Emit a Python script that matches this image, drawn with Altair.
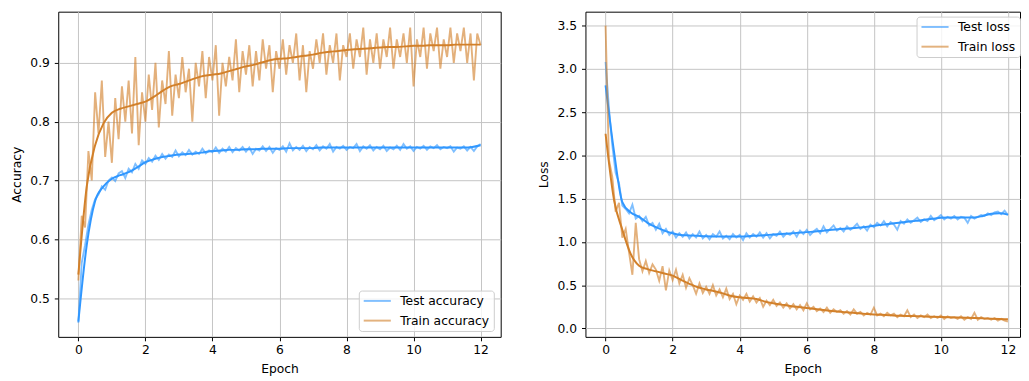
import altair as alt
import pandas as pd

BLUE = "#3097ff"
ORANGE = "#d2802a"
FONT = "DejaVu Sans"

# x positions of the recorded points (epochs)
epochs_raw = [round(i * 0.1, 1) for i in range(121)]
epochs_smooth = [i * 0.25 for i in range(49)]

# ---------------- accuracy ----------------
test_acc_raw = [
    0.458, 0.56, 0.59, 0.625, 0.65, 0.668, 0.676, 0.69, 0.684, 0.70,
    0.705, 0.699, 0.712, 0.716, 0.704, 0.72, 0.714, 0.728, 0.72, 0.734,
    0.728, 0.738, 0.732, 0.742, 0.735, 0.745, 0.737, 0.744, 0.74, 0.751,
    0.741, 0.748, 0.743, 0.752, 0.744, 0.749, 0.745, 0.754, 0.746, 0.751,
    0.748, 0.756, 0.747, 0.754, 0.749, 0.757, 0.748, 0.755, 0.751, 0.757,
    0.749, 0.756, 0.745, 0.754, 0.751, 0.758, 0.750, 0.757, 0.747, 0.755,
    0.752, 0.758, 0.749, 0.763, 0.751, 0.757, 0.752, 0.759, 0.750, 0.757,
    0.753, 0.760, 0.751, 0.758, 0.754, 0.762, 0.749, 0.757, 0.754, 0.759,
    0.752, 0.757, 0.755, 0.762, 0.750, 0.758, 0.754, 0.760, 0.751, 0.757,
    0.753, 0.759, 0.750, 0.756, 0.753, 0.759, 0.752, 0.762, 0.754, 0.758,
    0.750, 0.757, 0.754, 0.759, 0.752, 0.758, 0.755, 0.760, 0.753, 0.757,
    0.755, 0.758, 0.749, 0.756, 0.754, 0.758, 0.751, 0.757, 0.750, 0.758,
    0.762,
]
train_acc_raw = [
    0.53, 0.64, 0.62, 0.75, 0.70, 0.85, 0.78, 0.87, 0.74, 0.80,
    0.73, 0.84, 0.77, 0.86, 0.80, 0.87, 0.78, 0.91, 0.76, 0.85,
    0.80, 0.88, 0.82, 0.90, 0.79, 0.87, 0.83, 0.92, 0.81, 0.88,
    0.84, 0.91, 0.85, 0.89, 0.80, 0.90, 0.86, 0.92, 0.84, 0.91,
    0.87, 0.93, 0.81, 0.90, 0.86, 0.91, 0.87, 0.94, 0.85, 0.92,
    0.88, 0.93, 0.86, 0.92, 0.87, 0.94, 0.89, 0.93, 0.85, 0.92,
    0.89, 0.94, 0.88, 0.93, 0.90, 0.95, 0.87, 0.93, 0.85, 0.92,
    0.89, 0.94, 0.90, 0.95, 0.88, 0.93, 0.90, 0.95, 0.87, 0.93,
    0.91, 0.95, 0.89, 0.94, 0.91, 0.96, 0.88, 0.94, 0.90, 0.95,
    0.89, 0.94, 0.91, 0.96, 0.89, 0.94, 0.91, 0.95, 0.90, 0.96,
    0.86, 0.94, 0.91, 0.96, 0.89, 0.95, 0.92, 0.96, 0.89, 0.94,
    0.91, 0.96, 0.90, 0.95, 0.92, 0.96, 0.90, 0.95, 0.87, 0.95,
    0.93,
]
test_acc_smooth = [
    0.46, 0.59, 0.665, 0.69, 0.703, 0.709, 0.714, 0.722, 0.731, 0.736,
    0.740, 0.742, 0.744, 0.745, 0.746, 0.748, 0.750, 0.751, 0.752, 0.752,
    0.753, 0.753, 0.754, 0.754, 0.754, 0.755, 0.755, 0.755, 0.755, 0.756,
    0.756, 0.756, 0.756, 0.756, 0.756, 0.756, 0.756, 0.756, 0.756, 0.756,
    0.756, 0.756, 0.756, 0.756, 0.756, 0.756, 0.756, 0.757, 0.760,
]
train_acc_smooth = [
    0.54, 0.69, 0.76, 0.797, 0.815, 0.822, 0.826, 0.830, 0.834, 0.842,
    0.852, 0.860, 0.864, 0.869, 0.874, 0.878, 0.880, 0.882, 0.886, 0.890,
    0.894, 0.897, 0.901, 0.905, 0.907, 0.908, 0.910, 0.912, 0.914, 0.917,
    0.919, 0.920, 0.922, 0.923, 0.924, 0.925, 0.926, 0.927, 0.927, 0.928,
    0.929, 0.929, 0.930, 0.930, 0.930, 0.931, 0.931, 0.931, 0.931,
]

# ---------------- loss ----------------
test_loss_raw = [
    3.08, 2.55, 2.12, 1.80, 1.68, 1.42, 1.38, 1.33, 1.43, 1.27,
    1.30, 1.24, 1.29, 1.19, 1.22, 1.14, 1.21, 1.10, 1.15, 1.08,
    1.12, 1.05, 1.10, 1.06, 1.11, 1.04, 1.09, 1.05, 1.12, 1.04,
    1.08, 1.03, 1.09, 1.06, 1.12, 1.04, 1.07, 1.03, 1.09, 1.05,
    1.08, 1.02, 1.10, 1.05, 1.09, 1.06, 1.11, 1.05, 1.10, 1.04,
    1.09, 1.07, 1.12, 1.06, 1.10, 1.08, 1.12, 1.06, 1.13, 1.09,
    1.14, 1.08, 1.12, 1.15, 1.10, 1.18, 1.11, 1.15, 1.19, 1.13,
    1.16, 1.12, 1.18, 1.14, 1.17, 1.21, 1.15, 1.18, 1.13, 1.20,
    1.17, 1.22, 1.19, 1.24, 1.18, 1.23, 1.20, 1.14, 1.24, 1.21,
    1.26, 1.22, 1.25, 1.28, 1.23, 1.26, 1.24, 1.30, 1.25, 1.28,
    1.31, 1.26, 1.29, 1.27, 1.30, 1.26, 1.29, 1.28, 1.22, 1.30,
    1.27, 1.29, 1.31, 1.30, 1.33, 1.31, 1.34, 1.35, 1.32, 1.36,
    1.31,
]
train_loss_raw = [
    3.50, 1.95, 1.75, 1.35, 1.45, 1.05, 1.15, 0.88, 0.62, 1.22,
    0.80, 0.66, 0.78, 0.64, 0.74, 0.68, 0.55, 0.72, 0.44, 0.67,
    0.56, 0.68, 0.52, 0.62, 0.47, 0.58, 0.50, 0.40, 0.52, 0.41,
    0.48, 0.40, 0.50, 0.38, 0.45, 0.36, 0.46, 0.34, 0.40, 0.28,
    0.38, 0.33, 0.40, 0.31, 0.37, 0.30, 0.35, 0.25, 0.32, 0.27,
    0.33, 0.26, 0.30, 0.24, 0.29, 0.23, 0.28, 0.22, 0.27, 0.21,
    0.29, 0.22, 0.25, 0.20, 0.23, 0.19, 0.24, 0.18, 0.22, 0.19,
    0.21, 0.17, 0.20, 0.16, 0.22, 0.17, 0.19, 0.15, 0.18, 0.16,
    0.24, 0.15, 0.17, 0.14, 0.18, 0.15, 0.17, 0.13, 0.16, 0.14,
    0.21, 0.13, 0.16, 0.12, 0.15, 0.13, 0.16, 0.12, 0.14, 0.12,
    0.15, 0.11, 0.14, 0.12, 0.13, 0.11, 0.14, 0.10, 0.13, 0.11,
    0.18, 0.10, 0.13, 0.11, 0.12, 0.10, 0.12, 0.09, 0.11, 0.09,
    0.08,
]
test_loss_smooth = [
    2.81, 2.05, 1.46, 1.34, 1.29, 1.22, 1.17, 1.13, 1.10, 1.08,
    1.075, 1.07, 1.065, 1.063, 1.062, 1.062, 1.063, 1.066, 1.072, 1.078,
    1.085, 1.09, 1.097, 1.105, 1.113, 1.12, 1.13, 1.14, 1.148, 1.155,
    1.163, 1.172, 1.186, 1.198, 1.21, 1.222, 1.233, 1.243, 1.255, 1.267,
    1.279, 1.282, 1.283, 1.281, 1.282, 1.30, 1.325, 1.33, 1.315,
]
train_loss_smooth = [
    2.25, 1.49, 1.14, 0.86, 0.725, 0.685, 0.66, 0.635, 0.61, 0.56,
    0.515, 0.475, 0.45, 0.43, 0.405, 0.375, 0.36, 0.352, 0.34, 0.31,
    0.29, 0.275, 0.26, 0.248, 0.237, 0.225, 0.212, 0.2, 0.192, 0.184,
    0.176, 0.168, 0.161, 0.157, 0.152, 0.147, 0.144, 0.142, 0.138, 0.134,
    0.131, 0.128, 0.125, 0.122, 0.119, 0.116, 0.112, 0.108, 0.105,
]

acc_names = ["Test accuracy", "Train accuracy"]
loss_names = ["Test loss", "Train loss"]
x_ticks = [0, 2, 4, 6, 8, 10, 12]
acc_ticks = [0.5, 0.6, 0.7, 0.8, 0.9]
loss_ticks = [0.0, 0.5, 1.0, 1.5, 2.0, 2.5, 3.0, 3.5]


def frame(epochs, values, name):
    return pd.DataFrame({"epoch": epochs, "value": values, "series": name})


def panel(names, raws, smooths, ytitle, ydomain, yticks, xdomain, width, lx, ly):
    x = alt.X("epoch:Q",
              scale=alt.Scale(domain=xdomain, nice=False, zero=False),
              axis=alt.Axis(values=x_ticks, title="Epoch", format="d",
                            labelPadding=3, titlePadding=7))
    y = alt.Y("value:Q",
              scale=alt.Scale(domain=ydomain, nice=False, zero=False),
              axis=alt.Axis(values=yticks, format=".1f", title=ytitle,
                            labelPadding=5, titlePadding=5,
                            minExtent=30, maxExtent=30))
    cscale = alt.Scale(domain=names, range=[BLUE, ORANGE])
    legend = alt.Legend(title=None, orient="none", legendX=lx, legendY=ly,
                        symbolType="M-1,0H4", symbolSize=121,
                        symbolStrokeWidth=2, symbolOpacity=0.6,
                        labelFontSize=12.5, labelFont=FONT, labelColor="#000",
                        labelOffset=25, rowPadding=7, padding=4,
                        fillColor="rgba(255,255,255,0.8)",
                        strokeColor="#cccccc", cornerRadius=3)
    layers = []
    for i in range(2):
        raw_df = frame(epochs_raw, raws[i], names[i])
        sm_df = frame(epochs_smooth, smooths[i], names[i])
        layers.append(
            alt.Chart(raw_df).mark_line(strokeWidth=1.9, opacity=0.62).encode(
                x=x, y=y, order="epoch:Q",
                color=alt.Color("series:N", scale=cscale, legend=legend)))
        layers.append(
            alt.Chart(sm_df).mark_line(strokeWidth=2, interpolate="monotone").encode(
                x=x, y=y, order="epoch:Q",
                color=alt.Color("series:N", scale=cscale, legend=None)))
    return alt.layer(*layers).properties(width=width, height=330)


left = panel(acc_names, [test_acc_raw, train_acc_raw],
             [test_acc_smooth, train_acc_smooth],
             "Accuracy", [0.434, 0.987], acc_ticks, [-0.6, 12.6], 449, 305, 283)
right = panel(loss_names, [test_loss_raw, train_loss_raw],
              [test_loss_smooth, train_loss_smooth],
              "Loss", [-0.098, 3.661], loss_ticks, [-0.6, 12.36], 441, 336, 5)

chart = (
    alt.hconcat(left, right, spacing=36)
    .resolve_scale(color="independent")
    .resolve_legend(color="independent")
    .properties(padding={"left": 2, "top": 0, "right": 0, "bottom": 0})
    .configure_view(stroke="#000000", strokeWidth=1)
    .configure_axis(labelFont=FONT, titleFont=FONT, labelFontSize=12.5,
                    titleFontSize=12.5, titleFontWeight="normal",
                    labelColor="#000", titleColor="#000", tickColor="#000",
                    tickSize=4, domain=False, gridColor="#c4c4c4", gridWidth=1)
)

chart.save("out.html", embed_options={"renderer": "svg", "actions": False})
